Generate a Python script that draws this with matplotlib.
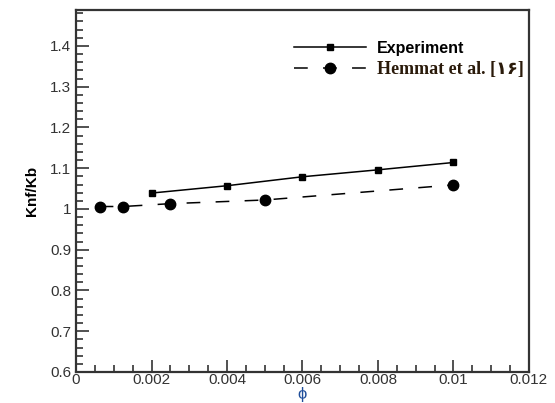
import matplotlib
matplotlib.use('Agg')
import matplotlib.pyplot as plt
from matplotlib.ticker import MultipleLocator, FuncFormatter

plt.rcParams['font.family'] = ['Liberation Sans', 'DejaVu Sans']

exp_phi = [0.002, 0.004, 0.006, 0.008, 0.01]
exp_k = [1.039, 1.057, 1.079, 1.096, 1.114]

hem_phi = [0.000625, 0.00125, 0.0025, 0.005, 0.01]
hem_k = [1.006, 1.006, 1.013, 1.022, 1.059]

fig = plt.figure(figsize=(5.55, 4.03), dpi=100)
ax = fig.add_axes([0.137, 0.077, 0.816, 0.898])

ax.plot(exp_phi, exp_k, color='black', lw=1.1, marker='s', ms=4.5,
        label='Experiment')
ax.plot(hem_phi, hem_k, color='black', lw=1.1, marker='o', ms=7.5,
        linestyle=(0, (9, 10)), label='Hemmat et al. [\u06f1\u06f6]')

ax.set_xlim(0, 0.012)
ax.set_ylim(0.6, 1.488)
ax.xaxis.set_major_locator(MultipleLocator(0.002))
ax.xaxis.set_minor_locator(MultipleLocator(0.0005))
ax.yaxis.set_major_locator(MultipleLocator(0.1))
ax.yaxis.set_minor_locator(MultipleLocator(0.02))

def fmt(v, pos):
    s = ('%.3f' % v).rstrip('0').rstrip('.')
    return s
ax.xaxis.set_major_formatter(FuncFormatter(fmt))
ax.yaxis.set_major_formatter(FuncFormatter(lambda v, p: ('%.1f' % v).rstrip('0').rstrip('.')))

ax.tick_params(which='both', direction='in', top=False, right=False,
               labelsize=11, colors='#333333', width=1.2)
ax.tick_params(which='major', length=9)
ax.tick_params(which='minor', length=5)
ax.tick_params(axis='x', pad=1)
for sp in ax.spines.values():
    sp.set_linewidth(1.6)
    sp.set_color('#333333')

ax.set_ylabel('Knf/Kb', fontsize=11, fontweight='bold', labelpad=8)
ax.set_xlabel('\u03d5', fontsize=12, color='#1f4e9a', labelpad=0)

leg = ax.legend(loc='upper right', bbox_to_anchor=(1.02, 0.955), frameon=False,
                handlelength=4.5, handletextpad=0.7, labelspacing=0.3,
                prop={'weight': 'bold', 'size': 11.5})
texts = leg.get_texts()
texts[1].set_family(['Liberation Serif', 'DejaVu Sans'])
texts[1].set_fontsize(13)
texts[1].set_color('#2a1a0a')

fig.savefig('out.png', dpi=100)
